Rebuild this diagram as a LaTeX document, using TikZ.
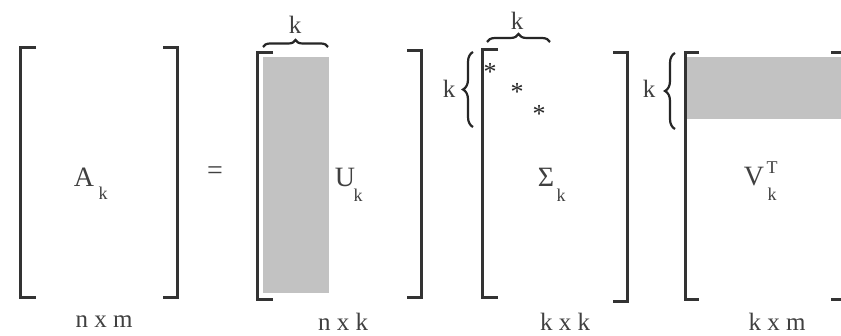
\documentclass[tikz,border=0pt]{standalone}
\usepackage{fontspec}
\setmainfont{Liberation Serif}
\usetikzlibrary{decorations.pathreplacing}
\begin{document}
\begin{tikzpicture}[x=1pt,y=-1pt,
  brk/.style={line width=3pt, draw=black!80, line join=miter},
  shade/.style={fill=black!24, draw=none},
  big/.style={font=\fontsize{28}{32}\selectfont, text=black!75, inner sep=0pt},
  dim/.style={font=\fontsize{25}{29}\selectfont, text=black!75, inner sep=0pt},
  small/.style={font=\fontsize{18}{21}\selectfont, text=black!75, inner sep=0pt},
  star/.style={font=\fontsize{26}{30}\selectfont, text=black!85, inner sep=0pt},
  brc/.style={decorate, decoration={brace, amplitude=#1}, line width=2.2pt, draw=black!85},
  brc/.default=7pt
]
\useasboundingbox (0,0) rectangle (841,336);
\fill[white] (0,0) rectangle (841,336);

% matrix A
\draw[brk] (36,48) -- (20.5,48) -- (20.5,298) -- (36,298);
\draw[brk] (163,48) -- (177,48) -- (177,298) -- (163,298);
\node[big] (A) at (84,177) {A};
\node[small] (Ak) at (103,193) {k};
\node[dim] (nxm) at (104,322) {n x m};

\node[big] (eq) at (215,173) {=};

% matrix U
\fill[shade] (263,57) rectangle (329,293);
\draw[brk] (273,53) -- (257,53) -- (257,300) -- (273,300);
\draw[brk] (407,51) -- (421.5,51) -- (421.5,298) -- (407,298);
\coordinate (ubl) at (263,47);
\coordinate (ubr) at (328,47);
\draw[brc=7pt] (ubl) -- (ubr);
\node[dim] (uk) at (295,25) {k};
\node[big] (U) at (345,177) {U};
\node[small] (Uk) at (358,195) {k};
\node[dim] (nxk) at (343,322) {n x k};

% matrix Sigma
\draw[brk] (498,50) -- (482,50) -- (482,298) -- (498,298);
\draw[brk] (613,53) -- (627,53) -- (627,302) -- (613,302);
\coordinate (sbl) at (487,42);
\coordinate (sbr) at (550,42);
\draw[brc=8pt] (sbl) -- (sbr);
\node[dim] (sk) at (517,21) {k};
\node[star] (s1) at (490,72) {*};
\node[star] (s2) at (517,92) {*};
\node[star] (s3) at (539,114) {*};
\coordinate (sll) at (473,127);
\coordinate (slu) at (473,52);
\draw[brc=10pt] (sll) -- (slu);
\node[dim] (slk) at (449,89) {k};
\node[big] (S) at (546,177) {Σ};
\node[small] (Sk) at (561,195) {k};
\node[dim] (kxk) at (565,322) {k x k};

% matrix V^T
\fill[shade] (687,57) rectangle (845,119);
\draw[brk] (699,53) -- (685,53) -- (685,300) -- (699,300);
\draw[brk] (831,53) -- (843,53) -- (843,300) -- (831,300);
\coordinate (vll) at (675,129);
\coordinate (vlu) at (675,53);
\draw[brc=10pt] (vll) -- (vlu);
\node[dim] (vlk) at (649,89) {k};
\node[big] (V) at (754,177) {V};
\node[small] (VT) at (772,168) {T};
\node[small] (Vk) at (772,194) {k};
\node[dim] (kxm) at (777,322) {k x m};
\end{tikzpicture}
\end{document}
